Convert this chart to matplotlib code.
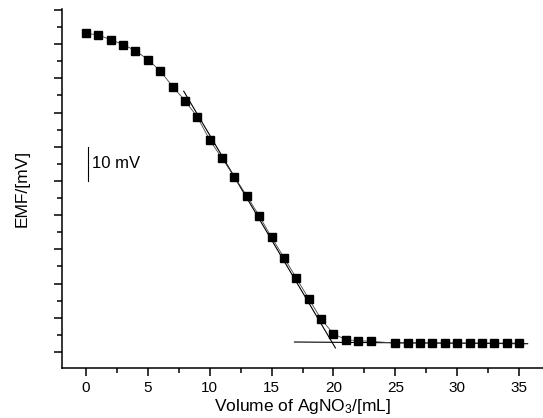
import numpy as np
import matplotlib.pyplot as plt
from matplotlib.ticker import MultipleLocator, NullFormatter

plt.rcParams['font.family'] = ['Liberation Sans', 'DejaVu Sans']
plt.rcParams['mathtext.fontset'] = 'custom'
plt.rcParams['mathtext.rm'] = 'Liberation Sans'
plt.rcParams['mathtext.it'] = 'Liberation Sans:italic'

# titration data: volume (mL) and EMF (mV, arbitrary offset)
volume = [0, 1, 2, 3, 4, 5, 6, 7, 8, 9, 10, 11, 12, 13, 14, 15, 16, 17, 18, 19,
          20, 21, 22, 23, 25, 26, 27, 28, 29, 30, 31, 32, 33, 34, 35]
emf = [93.2, 92.7, 91.3, 89.9, 88.1, 85.5, 82.2, 77.6, 73.5, 68.7, 62.0, 56.6,
       51.2, 45.6, 39.8, 33.5, 27.6, 21.6, 15.6, 9.6, 5.3, 3.6, 3.3, 3.1,
       2.6, 2.6, 2.6, 2.6, 2.6, 2.6, 2.6, 2.6, 2.6, 2.6, 2.6]

# fitted lines (steep part and plateau)
tangent_x = [7.9, 20.16]
tangent_y = [76.25, 1.16]
plateau_x = [16.85, 35.7]
plateau_y = [2.9, 2.4]

# 10 mV scale bar
bar_x = [0.15, 0.15]
bar_y = [50, 60]

fig = plt.figure(figsize=(5.43, 4.18), dpi=100)
ax = fig.add_axes([62/543, 1 - 368/418, 1 - 62/543, (368 - 9.3)/418])

ax.plot(volume, emf, color='#444444', lw=0.6, marker='s', ms=5.2,
        mfc='black', mec='black', zorder=3)
ax.plot(tangent_x, tangent_y, color='black', lw=0.8, zorder=2)
ax.plot(plateau_x, plateau_y, color='black', lw=0.8, zorder=2)

ax.plot(bar_x, bar_y, color='black', lw=0.8)
ax.text(0.5, 55, '10 mV', fontsize=12, va='center', ha='left')

ax.set_xlim(-1.94, 36.94)
ax.set_ylim(-4.7, 100.2)

ax.spines['top'].set_visible(False)
ax.spines['right'].set_visible(False)
ax.spines['left'].set_linewidth(1.1)
ax.spines['bottom'].set_linewidth(1.1)

ax.xaxis.set_major_locator(MultipleLocator(5))
ax.xaxis.set_minor_locator(MultipleLocator(2.5))
ax.yaxis.set_major_locator(MultipleLocator(10))
ax.yaxis.set_minor_locator(MultipleLocator(5))
ax.yaxis.set_major_formatter(NullFormatter())

ax.tick_params(axis='both', which='major', direction='out', length=6, width=1.1,
               labelsize=11)
ax.tick_params(axis='both', which='minor', direction='out', length=3.5, width=1.1)

ax.set_xlabel('Volume of AgNO$_3$/[mL]', fontsize=12.5, labelpad=1)
ax.set_ylabel('EMF/[mV]', fontsize=12.5, labelpad=14)

fig.savefig('out.png', dpi=100)
